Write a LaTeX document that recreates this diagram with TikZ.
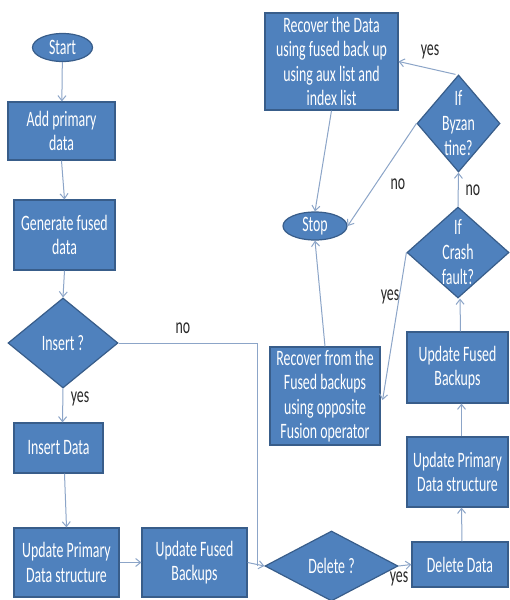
\documentclass[tikz,border=0pt]{standalone}
\usepackage{fontspec}
\setmainfont{Carlito}[FakeStretch=0.63]
\usetikzlibrary{shapes.geometric,arrows.meta}
\definecolor{boxfill}{RGB}{79,129,189}
\definecolor{boxline}{RGB}{56,93,138}
\definecolor{conn}{RGB}{140,165,200}
\definecolor{lbl}{RGB}{40,40,40}
\tikzset{
  base/.style={fill=boxfill,draw=boxline,line width=1.2pt,inner sep=0pt,text=white,align=center,
    font=\fontsize{22}{24.5}\selectfont},
  proc/.style={base,rectangle},
  term/.style={base,ellipse},
  dia/.style={base,diamond},
  dtext/.style={text=white,align=center,inner sep=0pt,font=\fontsize{22}{25}\selectfont},
  lab/.style={text=lbl,inner sep=0pt,font=\fontsize{22}{25}\selectfont},
  conn/.style={draw=conn,line width=1pt,-{Straight Barb[length=5pt,width=8pt]}},
  connl/.style={draw=conn,line width=1pt}
}
\begin{document}
\begin{tikzpicture}[x=1pt,y=-1pt]
\useasboundingbox[fill=white] (0,0) rectangle (509,600);
% left column
\node[term,minimum width=60,minimum height=28] (start) at (62.5,47.5) {Start};
\node[proc,minimum width=107,minimum height=58] (add) at (61.5,131) {Add primary\\data};
\node[proc,minimum width=101,minimum height=70] (gen) at (64.5,235) {Generate fused\\data};
\node[dia,minimum width=110,minimum height=90] (ins) at (63,343) {};
\node[dtext] at (ins) {Insert ?};
\node[proc,minimum width=89,minimum height=50] (insd) at (58.5,448) {Insert Data};
\node[proc,minimum width=105,minimum height=69] (upd1) at (66.5,562.5) {Update Primary\\Data structure};
\node[proc,minimum width=105,minimum height=69] (ufb1) at (194.5,562.5) {Update Fused\\Backups};
% bottom right
\node[dia,minimum width=133,minimum height=70] (del) at (331.5,566) {};
\node[dtext] at (del) {Delete ?};
\node[proc,minimum width=96,minimum height=45] (deld) at (460,564.5) {Delete Data};
\node[proc,minimum width=101,minimum height=70] (upd2) at (457.5,472) {Update Primary\\Data structure};
\node[proc,minimum width=101,minimum height=71] (ufb2) at (457.5,367.5) {Update Fused\\Backups};
\node[dia,minimum width=102,minimum height=91] (crash) at (458,252.5) {};
\node[dtext] at (crash) {If\\Crash\\fault?};
\node[dia,minimum width=83,minimum height=97] (byz) at (458.5,123.5) {};
\node[dtext] at (byz) {If\\Byzan\\tine?};
\node[proc,minimum width=133,minimum height=97] (rec1) at (331.5,61.5) {Recover the Data\\using fused back up\\using aux list and\\index list};
\node[term,minimum width=64,minimum height=28] (stop) at (315,226) {Stop};
\node[proc,minimum width=110,minimum height=98] (rec2) at (325,396) {Recover from the\\Fused backups\\using opposite\\Fusion operator};
\coordinate (j) at (257,566);
% connectors
\draw[conn] (start) -- (add);
\draw[conn] (add.south) -- (gen.north);
\draw[conn] (gen.south) -- (ins.north);
\draw[conn] (ins.south) -- ([xshift=4pt]insd.north);
\draw[conn] ([xshift=6pt]insd.south) -- ([xshift=0pt]upd1.north);
\draw[conn] (upd1.east) -- (ufb1.west);
\draw[connl] (ins.east) -| (j);
\draw[conn] (ufb1.east) -- (del.west);
\draw[conn] (del.east) -- (deld.west);
\draw[conn] ([xshift=2pt]deld.north) -- ([xshift=4pt]upd2.south);
\draw[conn] ([xshift=4pt]upd2.north) -- ([xshift=4pt]ufb2.south);
\draw[conn] ([xshift=3pt]ufb2.north) -- ([xshift=2pt]crash.south);
\draw[conn] (crash.north) -- (byz.south);
\draw[conn] ([xshift=-3pt]byz.north) -- (rec1.east);
\draw[conn] (byz.west) -- (stop.east);
\draw[conn] (rec1.south) -- (stop.north);
\draw[conn] (rec2.north) -- (stop.south);
\draw[conn] (crash.west) -- ([xshift=2pt,yshift=-4pt]rec2.east);
% labels
\node[lab] (l1) at (183,328) {no};
\node[lab] (l2) at (80,399) {yes};
\node[lab] (l3) at (398,184) {no};
\node[lab] (l4) at (473,190) {no};
\node[lab] (l5) at (430,52) {yes};
\node[lab] (l6) at (390,297) {yes};
\node[lab] (l7) at (399,579) {yes};
\end{tikzpicture}
\end{document}
